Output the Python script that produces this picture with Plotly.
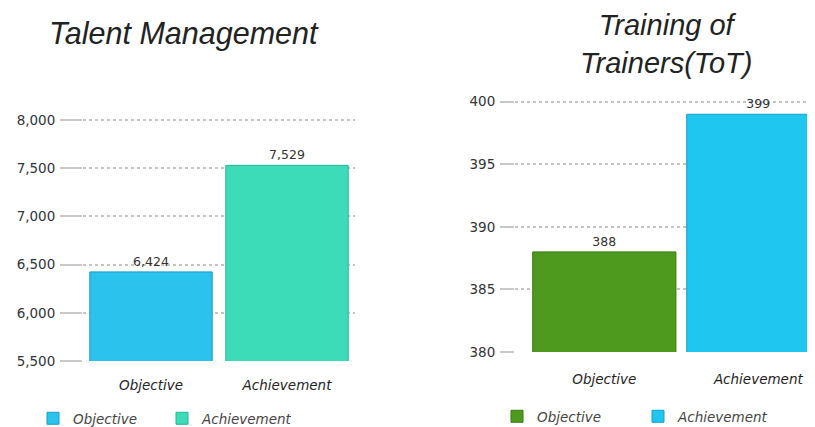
import plotly.graph_objects as go

# ---- data ----
categories = ["Objective", "Achievement"]
talent_values = [6424, 7529]
tot_values = [388, 399]
talent_title = "Talent Management"
tot_title = "Training of<br>Trainers(ToT)"
talent_ticks = [5500, 6000, 6500, 7000, 7500, 8000]
tot_ticks = [380, 385, 390, 395, 400]

talent_colors = ["#2bc3ee", "#3ddcb8"]
talent_lines = ["#1a9cc4", "#22b894"]
tot_colors = ["#4e9a1f", "#1ec6f0"]
tot_lines = ["#3a7a12", "#12a2c8"]

W, H = 815, 427
OFF = 8  # page body margin
FONT = "DejaVu Sans"

fig = go.Figure()

for i, cat in enumerate(categories):
    fig.add_trace(go.Bar(
        x=[cat], y=[talent_values[i]], name=cat, width=0.9,
        marker=dict(color=talent_colors[i], line=dict(color=talent_lines[i], width=1)),
        text=[f"{talent_values[i]:,}"], textposition="outside", cliponaxis=False,
        textfont=dict(family=FONT, size=12.5, color="#333333"),
        xaxis="x", yaxis="y", legend="legend",
    ))
for i, cat in enumerate(categories):
    fig.add_trace(go.Bar(
        x=[cat], y=[tot_values[i]], name=cat, width=0.93,
        marker=dict(color=tot_colors[i], line=dict(color=tot_lines[i], width=1)),
        text=[f"{tot_values[i]:,}"], textposition="outside", cliponaxis=False,
        textfont=dict(family=FONT, size=12.5, color="#333333"),
        xaxis="x2", yaxis="y2", legend="legend2",
    ))

def px_x(p):
    return (p - OFF) / W

def px_y(p):
    return 1 - (p - OFF) / H

common_y = dict(
    showgrid=True, gridcolor="#c4c4c4", griddash="dot", gridwidth=1.5,
    ticks="outside", tickcolor="#c8c8c8", tickwidth=1.5,
    ticklabelstandoff=2, zeroline=False, showline=False, automargin=False,
    tickfont=dict(family=FONT, size=13.5, color="#333333"),
)
common_x = dict(
    showgrid=False, zeroline=False, showline=False, ticks="", automargin=False,
    tickfont=dict(family=FONT, size=13.5, color="#222222", style="italic"),
    categoryorder="array", categoryarray=categories,
)
legend_font = dict(family=FONT, size=13.5, color="#444444", style="italic")

fig.update_layout(
    width=W, height=H, autosize=False,
    margin=dict(l=0, r=0, t=0, b=0, autoexpand=False),
    paper_bgcolor="white", plot_bgcolor="white",
    barmode="overlay",
    xaxis=dict(domain=[px_x(83), px_x(355)], range=[-0.5, 1.5],
               ticklabelstandoff=14, **common_x),
    yaxis=dict(domain=[px_y(361), px_y(118)], range=[5500, 8020],
               tickvals=talent_ticks, tickformat=",", ticklen=22, **common_y),
    xaxis2=dict(domain=[px_x(515), px_x(823)], range=[-0.58, 1.42],
                ticklabelstandoff=17, anchor="y2", **common_x),
    yaxis2=dict(domain=[px_y(352), px_y(98)], range=[380, 400.3],
                tickvals=tot_ticks, anchor="x2", ticklen=14, **common_y),
    legend=dict(orientation="h", x=px_x(33), y=px_y(403), xanchor="left", yanchor="top",
                font=legend_font, entrywidth=84, itemwidth=30,
                bgcolor="rgba(0,0,0,0)"),
    legend2=dict(orientation="h", x=px_x(497), y=px_y(401), xanchor="left", yanchor="top",
                 font=legend_font, entrywidth=96, itemwidth=30,
                 bgcolor="rgba(0,0,0,0)"),
    annotations=[
        dict(text=talent_title, x=px_x(184), y=px_y(34), xref="paper", yref="paper",
             xanchor="center", yanchor="middle", showarrow=False,
             font=dict(family="Liberation Sans", size=30.5, color="#222222", style="italic")),
        dict(text=tot_title, x=px_x(666), y=px_y(44), xref="paper", yref="paper",
             xanchor="center", yanchor="middle", showarrow=False,
             font=dict(family="Liberation Sans", size=29, color="#222222", style="italic")),
    ],
)

fig.write_html("out.html")
